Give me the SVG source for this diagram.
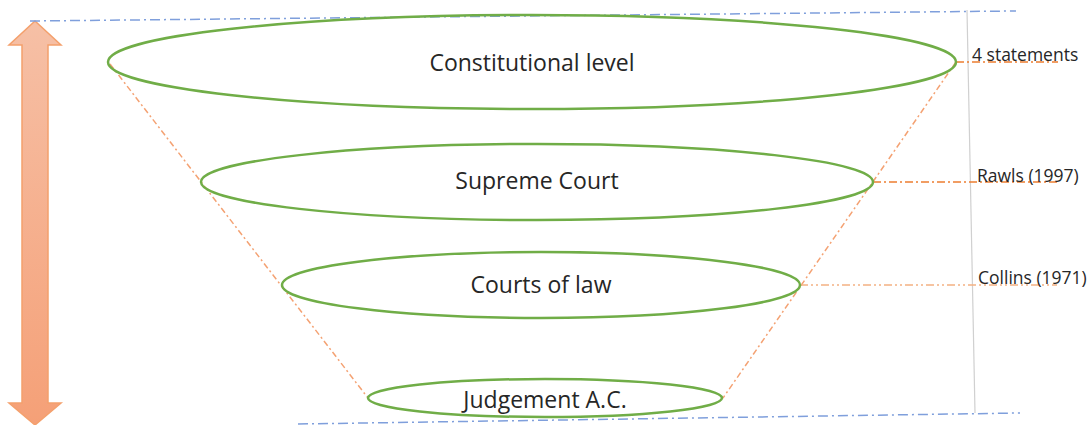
<svg xmlns="http://www.w3.org/2000/svg" width="1092" height="425" viewBox="0 0 1092 425">
  <defs>
    <linearGradient id="arrowFill" x1="0" y1="0" x2="0" y2="1">
      <stop offset="0" stop-color="#f6c0a6"/>
      <stop offset="1" stop-color="#f5a077"/>
    </linearGradient>
    <style>
      .level { fill: none; stroke: #70ad47; stroke-width: 2.5; }
      .label { font-family: "Open Sans", "Liberation Sans", sans-serif; font-size: 23px; fill: #262626; text-anchor: middle; }
      .note { font-family: "Open Sans", "Liberation Sans", sans-serif; font-size: 17.5px; fill: #262626; }
      .funnel { stroke: #f4a273; stroke-width: 1.5; stroke-dasharray: 6 3 2 3; fill: none; }
      .lead { stroke: #ed7d31; stroke-width: 1.5; stroke-dasharray: 8 3 2 3; fill: none; }
      .lead-light { stroke: #f4b183; stroke-width: 1.5; stroke-dasharray: 8 3 2 3 2 3; fill: none; }
      .bound { stroke: #7f9fdc; stroke-width: 1.5; stroke-dasharray: 10 4 2 4; fill: none; }
      .axis { stroke: #d0d0d0; stroke-width: 1.2; fill: none; }
    </style>
  </defs>

  <!-- scale arrow -->
  <g id="scale-arrow">
    <path d="M35,21 L61,45 L48,45 L48,403 L61,403 L35,425 L9,403 L22,403 L22,45 L9,45 Z" fill="url(#arrowFill)" stroke="#f4a06c" stroke-width="1.5" stroke-linejoin="miter"/>
  </g>

  <!-- connectors -->
  <g id="connectors">
    <line class="bound" x1="30" y1="21" x2="1016" y2="11"/>
    <line class="bound" x1="298" y1="424" x2="1020" y2="413"/>
    <line class="axis" x1="967" y1="10" x2="975" y2="413"/>
    <line class="funnel" x1="110" y1="64" x2="368" y2="398"/>
    <line class="funnel" x1="956" y1="62" x2="723" y2="398"/>
    <line class="lead" x1="956" y1="62" x2="1058" y2="62"/>
    <line class="lead" x1="873" y1="182" x2="1057" y2="182"/>
    <line class="lead-light" x1="800" y1="285" x2="1057" y2="285"/>
  </g>

  <g id="constitutional-level">
    <ellipse class="level" cx="532" cy="62" rx="424" ry="47"/>
    <text class="label" x="532" y="71">Constitutional level</text>
  </g>
  <g id="supreme-court">
    <ellipse class="level" cx="537" cy="182" rx="336" ry="38"/>
    <text class="label" x="537" y="189">Supreme Court</text>
  </g>
  <g id="courts-of-law">
    <ellipse class="level" cx="541" cy="285" rx="259" ry="33"/>
    <text class="label" x="541" y="293">Courts of law</text>
  </g>
  <g id="judgement">
    <ellipse class="level" cx="545" cy="398" rx="177" ry="19"/>
    <text class="label" x="545" y="408">Judgement A.C.</text>
  </g>

  <g id="notes">
    <text class="note" x="972" y="61">4 statements</text>
    <text class="note" x="977" y="182">Rawls (1997)</text>
    <text class="note" x="978" y="284">Collins (1971)</text>
  </g>
</svg>
